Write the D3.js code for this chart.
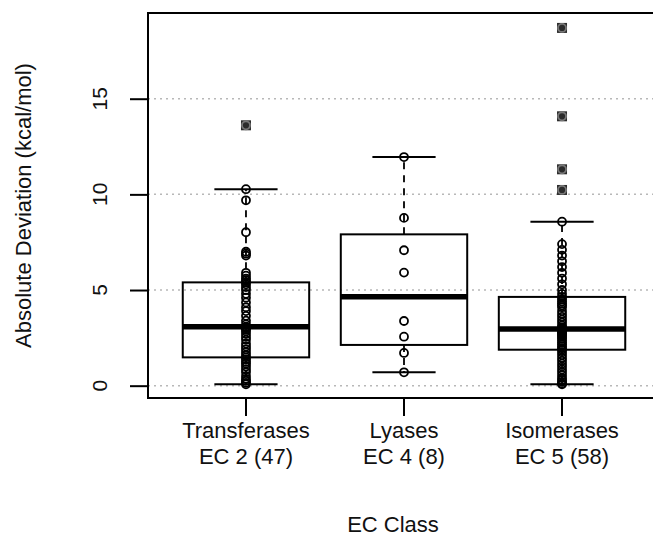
<!DOCTYPE html>
<html>
<head>
<meta charset="utf-8">
<script src="https://cdn.jsdelivr.net/npm/d3@7"></script>
<style>
  body { margin: 0; background: #fff; }
  text { font-family: "Liberation Sans", Arial, Helvetica, sans-serif; fill: #111; }
</style>
</head>
<body>
<svg id="chart"></svg>
<script>
// data
var classNames = ["Transferases", "Lyases", "Isomerases"];
var classCodes = ["EC 2 (47)", "EC 4 (8)", "EC 5 (58)"];
var yTicks = [0, 5, 10, 15];

// box stats (hinges, median, whisker ends)
var whiskerLo = [0.07, 0.70, 0.07];
var q1 = [1.48, 2.13, 1.88];
var medians = [3.08, 4.65, 2.96];
var q3 = [5.40, 7.91, 4.64];
var whiskerHi = [10.27, 11.95, 8.57];

// individual observations
var transferases = [0.07, 0.15, 0.25, 0.35, 0.5, 0.7, 0.85, 1.0, 1.15, 1.25, 1.38, 1.48,
  1.6, 1.75, 1.9, 2.05, 2.2, 2.4, 2.55, 2.7, 2.85, 2.95, 3.02, 3.08, 3.2, 3.4, 3.65, 3.9,
  4.1, 4.35, 4.6, 4.8, 5.0, 5.15, 5.3, 5.4, 5.5, 5.6, 5.75, 5.9, 6.8, 6.9, 7.0, 8.02,
  9.69, 10.27, 13.61];
var lyases = [0.70, 1.71, 2.56, 3.38, 5.91, 7.08, 8.77, 11.95];
var isomerases = [0.07, 0.12, 0.2, 0.3, 0.4, 0.55, 0.7, 0.85, 1.0, 1.15, 1.3, 1.45, 1.6,
  1.75, 1.88, 1.95, 2.05, 2.15, 2.25, 2.35, 2.45, 2.55, 2.62, 2.7, 2.76, 2.82, 2.88, 2.93,
  2.94, 2.98, 3.05, 3.15, 3.3, 3.45, 3.6, 3.75, 3.9, 4.1, 4.2, 4.3, 4.4, 4.52, 4.64, 4.8,
  5.0, 5.3, 5.6, 5.9, 6.2, 6.5, 6.8, 7.1, 7.4, 8.57, 10.23, 11.31, 14.08, 18.70];
var observations = [transferases, lyases, isomerases];

var W = 653, H = 537;
var plot = {left: 148, right: 660, top: 13, bottom: 398};

var svg = d3.select("#chart").attr("width", W).attr("height", H);

var xScale = d3.scaleBand()
  .domain(d3.range(classNames.length))
  .range([plot.left, plot.right])
  .paddingInner(0)
  .paddingOuter(0.12);
var boxW = xScale.bandwidth() * 0.8;
var cx = function(i) { return xScale(i) + xScale.bandwidth() / 2; };

var yScale = d3.scaleLinear()
  .domain([-0.644, 19.48])
  .range([plot.bottom, plot.top]);

// dotted grid lines
svg.append("g").selectAll("line")
  .data(yTicks)
  .enter().append("line")
  .attr("x1", plot.left).attr("x2", plot.right)
  .attr("y1", function(d) { return yScale(d); })
  .attr("y2", function(d) { return yScale(d); })
  .attr("stroke", "#b8b8b8")
  .attr("stroke-width", 1.5)
  .attr("stroke-dasharray", "2,4");

// boxes
var boxes = svg.append("g").selectAll("g")
  .data(classNames)
  .enter().append("g");

boxes.append("line") // dashed whisker up
  .attr("x1", function(d, i) { return cx(i); })
  .attr("x2", function(d, i) { return cx(i); })
  .attr("y1", function(d, i) { return yScale(q3[i]); })
  .attr("y2", function(d, i) { return yScale(whiskerHi[i]); })
  .attr("stroke", "#000").attr("stroke-width", 1.8)
  .attr("stroke-dasharray", "7,6");
boxes.append("line") // dashed whisker down
  .attr("x1", function(d, i) { return cx(i); })
  .attr("x2", function(d, i) { return cx(i); })
  .attr("y1", function(d, i) { return yScale(q1[i]); })
  .attr("y2", function(d, i) { return yScale(whiskerLo[i]); })
  .attr("stroke", "#000").attr("stroke-width", 1.8)
  .attr("stroke-dasharray", "7,6");

[whiskerHi, whiskerLo].forEach(function(arr) {
  boxes.append("line")
    .attr("x1", function(d, i) { return cx(i) - boxW / 4; })
    .attr("x2", function(d, i) { return cx(i) + boxW / 4; })
    .attr("y1", function(d, i) { return yScale(arr[i]); })
    .attr("y2", function(d, i) { return yScale(arr[i]); })
    .attr("stroke", "#000").attr("stroke-width", 2);
});

boxes.append("rect")
  .attr("x", function(d, i) { return cx(i) - boxW / 2; })
  .attr("y", function(d, i) { return yScale(q3[i]); })
  .attr("width", boxW)
  .attr("height", function(d, i) { return yScale(q1[i]) - yScale(q3[i]); })
  .attr("fill", "none")
  .attr("stroke", "#000").attr("stroke-width", 2);

boxes.append("line")
  .attr("x1", function(d, i) { return cx(i) - boxW / 2; })
  .attr("x2", function(d, i) { return cx(i) + boxW / 2; })
  .attr("y1", function(d, i) { return yScale(medians[i]); })
  .attr("y2", function(d, i) { return yScale(medians[i]); })
  .attr("stroke", "#000").attr("stroke-width", 5.5);

// points, outliers get a filled square under the circle
observations.forEach(function(vals, i) {
  var g = svg.append("g");
  var outl = vals.filter(function(v) { return v > whiskerHi[i] || v < whiskerLo[i]; });
  g.selectAll("rect")
    .data(outl)
    .enter().append("rect")
    .attr("x", cx(i) - 5).attr("y", function(v) { return yScale(v) - 5; })
    .attr("width", 10).attr("height", 10)
    .attr("fill", "#2b2b2b");
  g.selectAll("circle")
    .data(vals)
    .enter().append("circle")
    .attr("cx", cx(i))
    .attr("cy", function(v) { return yScale(v); })
    .attr("r", 4)
    .attr("fill", "none")
    .attr("stroke", function(v) { return outl.indexOf(v) >= 0 ? "#777" : "#000"; })
    .attr("stroke-width", 1.8);
});

// plot border
svg.append("rect")
  .attr("x", plot.left).attr("y", plot.top)
  .attr("width", plot.right - plot.left)
  .attr("height", plot.bottom - plot.top)
  .attr("fill", "none").attr("stroke", "#000").attr("stroke-width", 2);

// y axis
var yAxis = svg.append("g")
  .attr("transform", "translate(" + plot.left + ",0)")
  .call(d3.axisLeft(yScale).tickValues(yTicks).tickSize(18).tickFormat(""));
yAxis.select(".domain").remove();
yAxis.selectAll("line").attr("stroke", "#000").attr("stroke-width", 2);

svg.append("g").selectAll("text")
  .data(yTicks)
  .enter().append("text")
  .attr("transform", function(d) { return "translate(107," + yScale(d) + ") rotate(-90)"; })
  .attr("text-anchor", "middle")
  .style("font-size", "21px")
  .text(function(d) { return d; });

// x axis
var xAxis = svg.append("g")
  .attr("transform", "translate(0," + plot.bottom + ")")
  .call(d3.axisBottom(xScale).tickSize(18).tickFormat(""));
xAxis.select(".domain").remove();
xAxis.selectAll("line").attr("stroke", "#000").attr("stroke-width", 2);

var xl = svg.append("g").selectAll("text")
  .data(classNames)
  .enter().append("text")
  .attr("text-anchor", "middle")
  .style("font-size", "22px");
xl.append("tspan")
  .attr("x", function(d, i) { return cx(i); })
  .attr("y", 438)
  .text(function(d) { return d; });
xl.append("tspan")
  .attr("x", function(d, i) { return cx(i); })
  .attr("y", 464)
  .text(function(d, i) { return classCodes[i]; });

// axis titles
svg.append("text")
  .attr("x", (plot.left + plot.right) / 2 - 11)
  .attr("y", 532)
  .attr("text-anchor", "middle")
  .style("font-size", "22px")
  .text("EC Class");

svg.append("text")
  .attr("transform", "translate(31," + ((plot.top + plot.bottom) / 2) + ") rotate(-90)")
  .attr("text-anchor", "middle")
  .style("font-size", "22px")
  .text("Absolute Deviation (kcal/mol)");
</script>
</body>
</html>
